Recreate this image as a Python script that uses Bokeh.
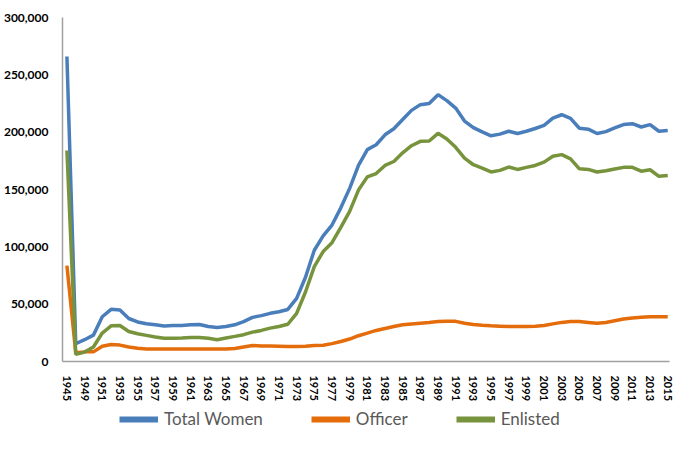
from bokeh.plotting import figure
from bokeh.layouts import column
from bokeh.models import (ColumnDataSource, FixedTicker, NumeralTickFormatter,
                          Legend, LegendItem, Range1d)
from bokeh.embed import file_html
from bokeh.resources import INLINE

years = [1945, 1948, 1949, 1950, 1951, 1952, 1953, 1954, 1955, 1956, 1957, 1958,
         1959, 1960, 1961, 1962, 1963, 1964, 1965, 1966, 1967, 1968, 1969, 1970,
         1971, 1972, 1973, 1974, 1975, 1976, 1977, 1978, 1979, 1980, 1981, 1982,
         1983, 1984, 1985, 1986, 1987, 1988, 1989, 1990, 1991, 1992, 1993, 1994,
         1995, 1996, 1997, 1998, 1999, 2000, 2001, 2002, 2003, 2004, 2005, 2006,
         2007, 2008, 2009, 2010, 2011, 2012, 2013, 2014, 2015]

total_women = [266000, 15500, 19000, 23000, 39000, 45500, 45000, 37500, 34500, 33000,
               32000, 31000, 31300, 31300, 32000, 32200, 30500, 29700, 30500, 32000,
               34800, 38500, 40000, 42000, 43400, 45400, 55000, 73500, 97000, 109500,
               119000, 134000, 151000, 171000, 184800, 189000, 197700, 203000, 211000,
               219000, 224000, 225000, 232700, 227500, 221000, 209700, 204000, 200200,
               196800, 198300, 200800, 198800, 200800, 203200, 206000, 212300, 215200,
               212000, 203400, 202600, 198800, 200500, 203700, 206600, 207400, 204500,
               206600, 200800, 201400]

officer = [83600, 7600, 8400, 8400, 13300, 14800, 14300, 12700, 11600, 11000,
           11000, 10800, 10800, 10800, 10800, 11000, 10800, 10800, 11000, 11300,
           12700, 13900, 13600, 13600, 13300, 13000, 13000, 13300, 13900, 14200,
           15600, 17400, 19600, 22500, 24800, 27100, 28800, 30500, 32000, 32800,
           33400, 34000, 34800, 35000, 35000, 33400, 32200, 31600, 31100, 30800,
           30500, 30500, 30500, 30800, 31400, 32800, 34100, 34800, 34800, 34100,
           33400, 34000, 35500, 37000, 37900, 38500, 39100, 39100, 39000]

enlisted = [184000, 6200, 8200, 12700, 24800, 31100, 31400, 26200, 24200, 22800,
            21300, 20200, 20200, 20500, 21000, 21000, 20200, 19000, 20500, 21900,
            23400, 25600, 27100, 29100, 30500, 32500, 42000, 60600, 82700, 95900,
            103600, 117000, 130900, 149500, 161000, 163900, 171000, 174400, 182000,
            188200, 192000, 192300, 199000, 194000, 186800, 177300, 171600, 168700,
            165300, 166700, 169600, 167500, 169300, 171000, 173900, 179000, 180400,
            176700, 168000, 167500, 165300, 166300, 167800, 169300, 169300, 166000,
            167200, 161500, 162300]

series_names = ["Total Women", "Officer", "Enlisted"]
series_cols = ["total", "officer", "enlisted"]
colors = ["#4A7EBB", "#E46C0A", "#77933C"]

idx = list(range(len(years)))
src = ColumnDataSource(dict(x=idx, total=total_women, officer=officer, enlisted=enlisted))

W = 674

# ---- main chart ----
p = figure(width=W, height=404, output_backend="svg", toolbar_location=None,
           x_range=Range1d(-0.5, 68.2), y_range=Range1d(0, 300000),
           min_border_left=59, min_border_right=5, min_border_top=17,
           min_border_bottom=38)
p.outline_line_color = None
p.xgrid.grid_line_color = None
p.ygrid.grid_line_color = None

for col, c in zip(series_cols, colors):
    p.line("x", col, source=src, line_color=c, line_width=3.5)

p.yaxis.ticker = FixedTicker(ticks=[0, 50000, 100000, 150000, 200000, 250000, 300000])
p.yaxis.formatter = NumeralTickFormatter(format="0,0")
p.yaxis.major_label_text_font = "Lato"
p.yaxis.major_label_text_font_style = "bold"
p.yaxis.major_label_text_font_size = "12px"
p.yaxis.major_label_text_color = "#000000"
p.yaxis.major_tick_line_color = None
p.yaxis.minor_tick_line_color = None
p.yaxis.major_label_standoff = 8
p.yaxis.axis_line_color = "#A0A0A0"
p.yaxis.axis_line_width = 1.5

p.xaxis.ticker = FixedTicker(ticks=idx[::2])
p.xaxis.major_label_overrides = {i: str(y) for i, y in zip(idx, years)}
p.xaxis.major_label_orientation = "vertical"
p.xaxis.major_label_text_font = "Lato"
p.xaxis.major_label_text_font_style = "bold"
p.xaxis.major_label_text_font_size = "11px"
p.xaxis.major_label_text_color = "#000000"
p.xaxis.major_tick_line_color = None
p.xaxis.minor_tick_line_color = None
p.xaxis.major_label_standoff = 8
p.xaxis.axis_line_color = "#A0A0A0"
p.xaxis.axis_line_width = 1.5

# ---- legend strip (separate figure, same series) ----
lg = figure(width=W, height=30, output_backend="svg", toolbar_location=None,
            x_range=Range1d(-0.5, 68.2), y_range=Range1d(-2, -1),
            min_border=0)
lg.outline_line_color = None
lg.axis.visible = False
lg.grid.visible = False
items = []
for col, name, c in zip(series_cols, series_names, colors):
    r = lg.line("x", col, source=src, line_color=c, line_width=6)
    items.append(LegendItem(label=name, renderers=[r]))
legend = Legend(items=items, orientation="horizontal", location=(57, 5),
                label_text_font="Lato", label_text_font_size="17px",
                label_text_color="#595959", glyph_width=39,
                label_standoff=6, spacing=48, border_line_color=None,
                background_fill_alpha=0, padding=0, margin=0)
lg.add_layout(legend, "center")

layout = column(p, lg, spacing=0)
open("out.html", "w").write(file_html(layout, INLINE))
